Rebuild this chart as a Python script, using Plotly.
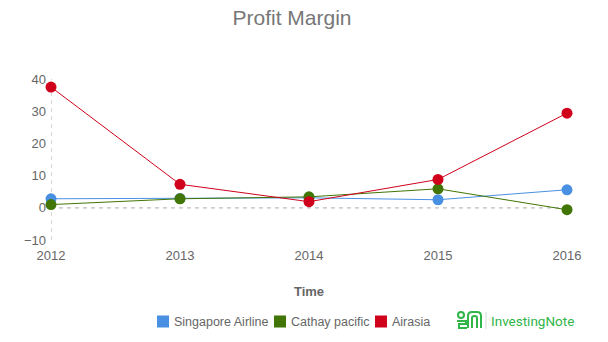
import plotly.graph_objects as go

# Profit margin (%) by year for three airlines
years = [2012, 2013, 2014, 2015, 2016]
singapore_airline = [2.8, 2.9, 3.1, 2.5, 5.6]
cathay_pacific = [1.0, 2.8, 3.4, 5.9, -0.6]
airasia = [37.5, 7.3, 1.9, 8.8, 29.4]

series = [
    ("Singapore Airline", singapore_airline, "#4a90e2"),
    ("Cathay pacific", cathay_pacific, "#417505"),
    ("Airasia", airasia, "#d0021b"),
]

W, H = 608, 342
ML, MR, MT, MB = 51, 41, 79, 102
PW, PH = W - ML - MR, H - MT - MB


def px(x):
    return (x - ML) / PW


def py(y):
    return (H - MB - y) / PH


fig = go.Figure()

for name, vals, color in series:
    fig.add_trace(go.Scatter(
        x=years, y=vals, mode="lines+markers", name=name,
        line=dict(color=color, width=1),
        marker=dict(color=color, size=11),
        cliponaxis=False, showlegend=False,
    ))

grey = "#666666"
dash_style = dict(color="#bdbdbd", width=1.2, dash="4px,4px")
shapes = [
    # dashed reference lines: y axis at first year and zero line
    dict(type="line", xref="x", yref="paper", x0=2012, x1=2012, y0=0, y1=1,
         line=dash_style, layer="below"),
    dict(type="line", xref="paper", yref="y", x0=0, x1=1, y0=0, y1=0,
         line=dash_style, layer="below"),
]
annotations = []

# legend row: colour square followed by series name
legend_x = [157, 274, 375]
for (name, vals, color), lx in zip(series, legend_x):
    shapes.append(dict(type="rect", xref="paper", yref="paper",
                       x0=px(lx), x1=px(lx + 12), y0=py(327.5), y1=py(315.5),
                       fillcolor=color, line=dict(width=0)))
    annotations.append(dict(text=name, xref="paper", yref="paper",
                            x=px(lx + 15), y=py(321.5), xanchor="left", yanchor="middle",
                            showarrow=False, font=dict(size=12.5, color=grey)))

# InvestingNote brand mark
green = "#2fb548"
lw = 2
shapes += [
    dict(type="circle", xref="paper", yref="paper",
         x0=px(458), x1=px(464), y0=py(318), y1=py(312),
         line=dict(color=green, width=lw)),
    dict(type="path", xref="paper", yref="paper",
         path=(f"M {px(457)},{py(321)} L {px(466)},{py(321)} L {px(466)},{py(324)} "
               f"L {px(459)},{py(324)} L {px(459)},{py(328)} L {px(467)},{py(328)}"),
         line=dict(color=green, width=lw)),
    dict(type="path", xref="paper", yref="paper",
         path=(f"M {px(468)},{py(328)} L {px(468)},{py(316)} Q {px(468)},{py(312)} {px(472)},{py(312)} "
               f"L {px(477)},{py(312)} Q {px(481)},{py(312)} {px(481)},{py(316)} L {px(481)},{py(328)} "
               f"M {px(472)},{py(328)} L {px(472)},{py(318)} Q {px(472)},{py(316)} {px(474.5)},{py(316)} "
               f"Q {px(477)},{py(316)} {px(477)},{py(318)} L {px(477)},{py(328)}"),
         line=dict(color=green, width=lw)),
    dict(type="line", xref="paper", yref="paper",
         x0=px(486), x1=px(486), y0=py(312), y1=py(329),
         line=dict(color="#d8d8d8", width=1)),
]
annotations.append(dict(text="InvestingNote", xref="paper", yref="paper",
                        x=px(489), y=py(321), xanchor="left", yanchor="middle",
                        showarrow=False,
                        font=dict(family="Roboto, sans-serif", size=13.5, color=green)))

fig.update_layout(
    width=W, height=H,
    margin=dict(l=ML, r=MR, t=MT, b=MB),
    paper_bgcolor="white", plot_bgcolor="white",
    showlegend=False,
    font=dict(family="Liberation Sans, Arial, sans-serif", color=grey, size=13),
    title=dict(text="Profit Margin", x=px(292), xref="paper", xanchor="center",
               y=1 - 18 / H, yanchor="middle",
               font=dict(size=21, color="#777777")),
    xaxis=dict(range=[2012, 2016], tickvals=years, showgrid=False, zeroline=False,
               showline=False, ticks="", ticklabelstandoff=6,
               tickfont=dict(size=13, color=grey),
               title=dict(text="<b>Time</b>", font=dict(size=13, color=grey), standoff=24)),
    yaxis=dict(range=[-10, 40], tickvals=[-10, 0, 10, 20, 30, 40], showgrid=False,
               zeroline=False, showline=False, ticks="", ticklabelstandoff=4,
               tickfont=dict(size=13, color=grey)),
    shapes=shapes,
    annotations=annotations,
)

fig.write_html("out.html")
